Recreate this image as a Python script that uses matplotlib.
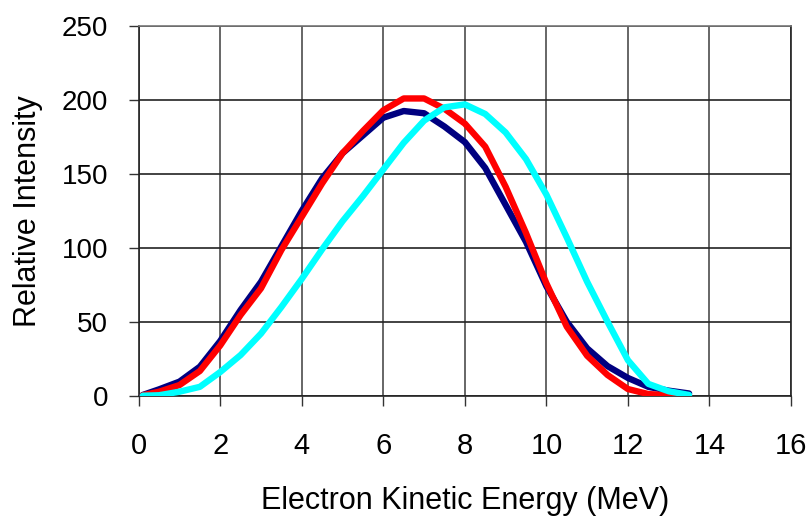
import matplotlib
matplotlib.use("Agg")
import matplotlib.pyplot as plt

# ---- data ----
energy = [0.1, 0.5, 1.0, 1.5, 2.0, 2.5, 3.0, 3.5, 4.0, 4.5, 5.0, 5.5, 6.0, 6.5,
          7.0, 7.5, 8.0, 8.5, 9.0, 9.5, 10.0, 10.5, 11.0, 11.5, 12.0, 12.5, 13.0, 13.5]

navy_vals = [0.5, 4.3, 9.5, 19.6, 37, 58, 77, 101, 125, 147, 164, 176, 188, 192.5,
             191, 182, 171.5, 154, 129, 104, 74, 50, 32, 20, 12, 6, 3.4, 1.5]

red_vals = [0.3, 2.7, 7.2, 16.7, 34, 54.6, 72.6, 98.5, 121, 143.6, 164, 179, 193, 201,
            201, 194, 184, 168.4, 141.3, 110, 76, 46.7, 27, 14, 4.5, 1.1, 0.3, 0.0]

cyan_vals = [0.0, 0.3, 2.7, 6, 16, 27.5, 42, 60, 79, 99, 118, 135, 153, 171,
             186, 195, 197, 190.5, 178, 160, 136, 107, 77, 50, 24, 8, 3, 0.5]

x_ticks = [0, 2, 4, 6, 8, 10, 12, 14, 16]
y_ticks = [0, 50, 100, 150, 200, 250]
x_label = "Electron Kinetic Energy (MeV)"
y_label = "Relative Intensity"

plt.rcParams['font.family'] = ['Liberation Sans', 'DejaVu Sans']

fig = plt.figure(figsize=(8.12, 5.23), dpi=100)
ax = fig.add_axes([138.7 / 812, (523 - 395.7) / 523, (791 - 138.7) / 812, (395.7 - 26) / 523])

ax.plot(energy, navy_vals, color='#000080', lw=4.6, solid_capstyle='round',
        solid_joinstyle='round', zorder=3)
ax.plot(energy, red_vals, color='#FF0000', lw=4.6, solid_capstyle='round',
        solid_joinstyle='round', zorder=4)
ax.plot(energy, cyan_vals, color='#00FFFF', lw=4.6, solid_capstyle='round',
        solid_joinstyle='round', zorder=5)

ax.set_xlim(0, 16)
ax.set_ylim(0, 250)
ax.set_xticks(x_ticks)
ax.set_yticks(y_ticks)
ax.set_xticklabels([str(v) for v in x_ticks])
ax.set_yticklabels([str(v) for v in y_ticks])

ax.xaxis.grid(True, color='#666666', lw=1.4, zorder=1)
ax.yaxis.grid(True, color='#222222', lw=1.2, zorder=1)
ax.set_axisbelow(True)
for s in ax.spines.values():
    s.set_color('#222222')
    s.set_linewidth(1.2)
ax.spines['top'].set_color('#777777')

ax.tick_params(axis='both', direction='out', length=7, width=1.0, color='#333333',
               labelsize=20, labelcolor='black')
ax.tick_params(axis='y', pad=15)
ax.tick_params(axis='x', pad=19, labelsize=21)

ax.set_xlabel(x_label, fontsize=22)
ax.set_ylabel(y_label, fontsize=22)
ax.xaxis.set_label_coords(0.5, -0.245)
ax.yaxis.set_label_coords(-0.147, 0.5)

fig.savefig("out.png", dpi=100, facecolor='white')
